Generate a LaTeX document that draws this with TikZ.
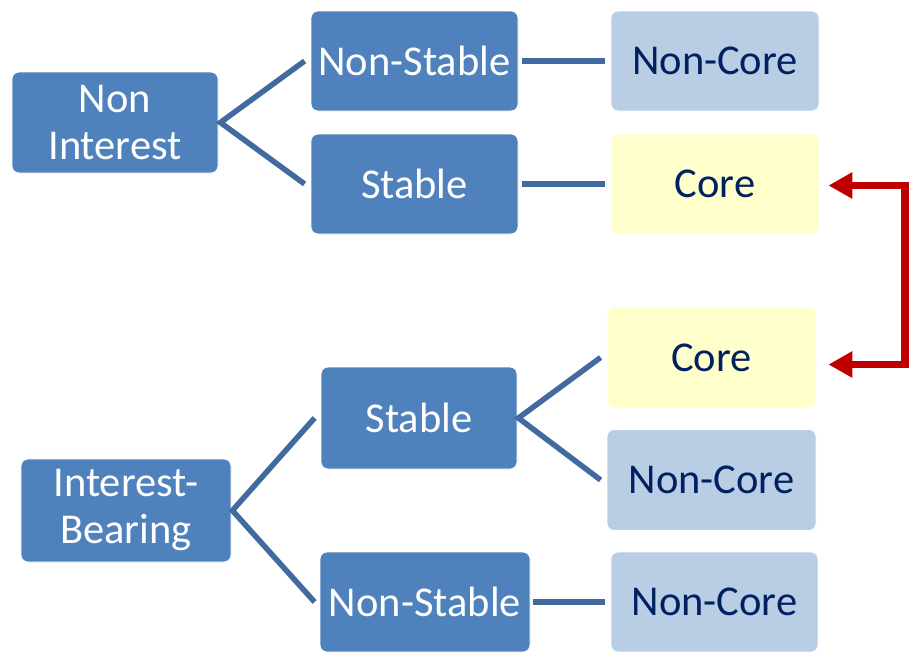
\documentclass[tikz,border=0pt]{standalone}
\usepackage{fontspec}
\setmainfont{Carlito}
\usetikzlibrary{arrows.meta}
\definecolor{boxdark}{RGB}{79,129,189}
\definecolor{boxlight}{RGB}{185,205,229}
\definecolor{boxyellow}{RGB}{255,255,204}
\definecolor{linkblue}{RGB}{65,106,158}
\definecolor{textnavy}{RGB}{0,32,96}
\definecolor{railred}{RGB}{192,0,0}
\begin{document}
\begin{tikzpicture}[x=1pt,y=-1pt,
  box/.style={rounded corners=7pt, inner sep=0pt, align=center,
    font=\fontsize{42.5}{47}\selectfont, draw=white, line width=0.8pt},
  dark/.style={box, fill=boxdark, text=white},
  light/.style={box, fill=boxlight, text=textnavy},
  yellowbox/.style={box, fill=boxyellow, text=textnavy},
  link/.style={draw=linkblue, line width=5.5pt},
  rail/.style={draw=railred, line width=7.5pt, line join=miter,
    {Triangle[length=24pt,width=25pt]}-{Triangle[length=24pt,width=25pt]}}
]
\useasboundingbox (0,0) rectangle (910,651);
\clip (0,0) rectangle (910,651);

% upper tree
\node[dark, minimum width=206pt, minimum height=101pt] (ni)  at (115,122.5) {Non\\Interest};
\node[dark, minimum width=207pt, minimum height=100pt] (ns1) at (414.5,61) {Non-Stable};
\node[dark, minimum width=207pt, minimum height=100pt] (s1)  at (414.5,184) {Stable};
\node[light, minimum width=208pt, minimum height=100pt] (nc1) at (715,61) {Non-Core};
\node[yellowbox, minimum width=208pt, minimum height=100pt] (c1) at (715,184) {Core};

% lower tree
\node[dark, minimum width=210pt, minimum height=103pt] (ib)  at (126,510.5) {Interest-\\Bearing};
\node[dark, minimum width=196pt, minimum height=102pt] (s2)  at (419,418) {Stable};
\node[dark, minimum width=210pt, minimum height=100pt] (ns2) at (425,602) {Non-Stable};
\node[yellowbox, minimum width=209pt, minimum height=101pt] (c2) at (711.5,357.5) {Core};
\node[light, minimum width=209pt, minimum height=101pt] (nc2) at (711.5,480) {Non-Core};
\node[light, minimum width=207pt, minimum height=100pt] (nc3) at (714.5,602) {Non-Core};

% blue connectors
\draw[link] ([xshift=-6pt]ns1.west) -- ([xshift=2pt]ni.east) -- ([xshift=-6pt]s1.west);
\draw[link] ([xshift=4pt]ns1.east) -- ([xshift=-6pt]nc1.west);
\draw[link] ([xshift=4pt]s1.east) -- ([xshift=-6pt]c1.west);
\draw[link] ([xshift=-6pt]c2.west) -- ([xshift=1pt]s2.east) -- ([xshift=-6pt]nc2.west);
\draw[link] ([xshift=-6pt]s2.west) -- ([xshift=1pt]ib.east) -- ([xshift=-5pt]ns2.west);
\draw[link] ([xshift=3pt]ns2.east) -- ([xshift=-6pt]nc3.west);

% red link between the two core boxes
\coordinate (railtop) at (905,185.5);
\coordinate (railbot) at (905,364.5);
\draw[rail] ([xshift=9pt,yshift=-1.5pt]c1.east) -- (railtop) -- (railbot) -- ([xshift=12pt,yshift=-7pt]c2.east);
\end{tikzpicture}
\end{document}
